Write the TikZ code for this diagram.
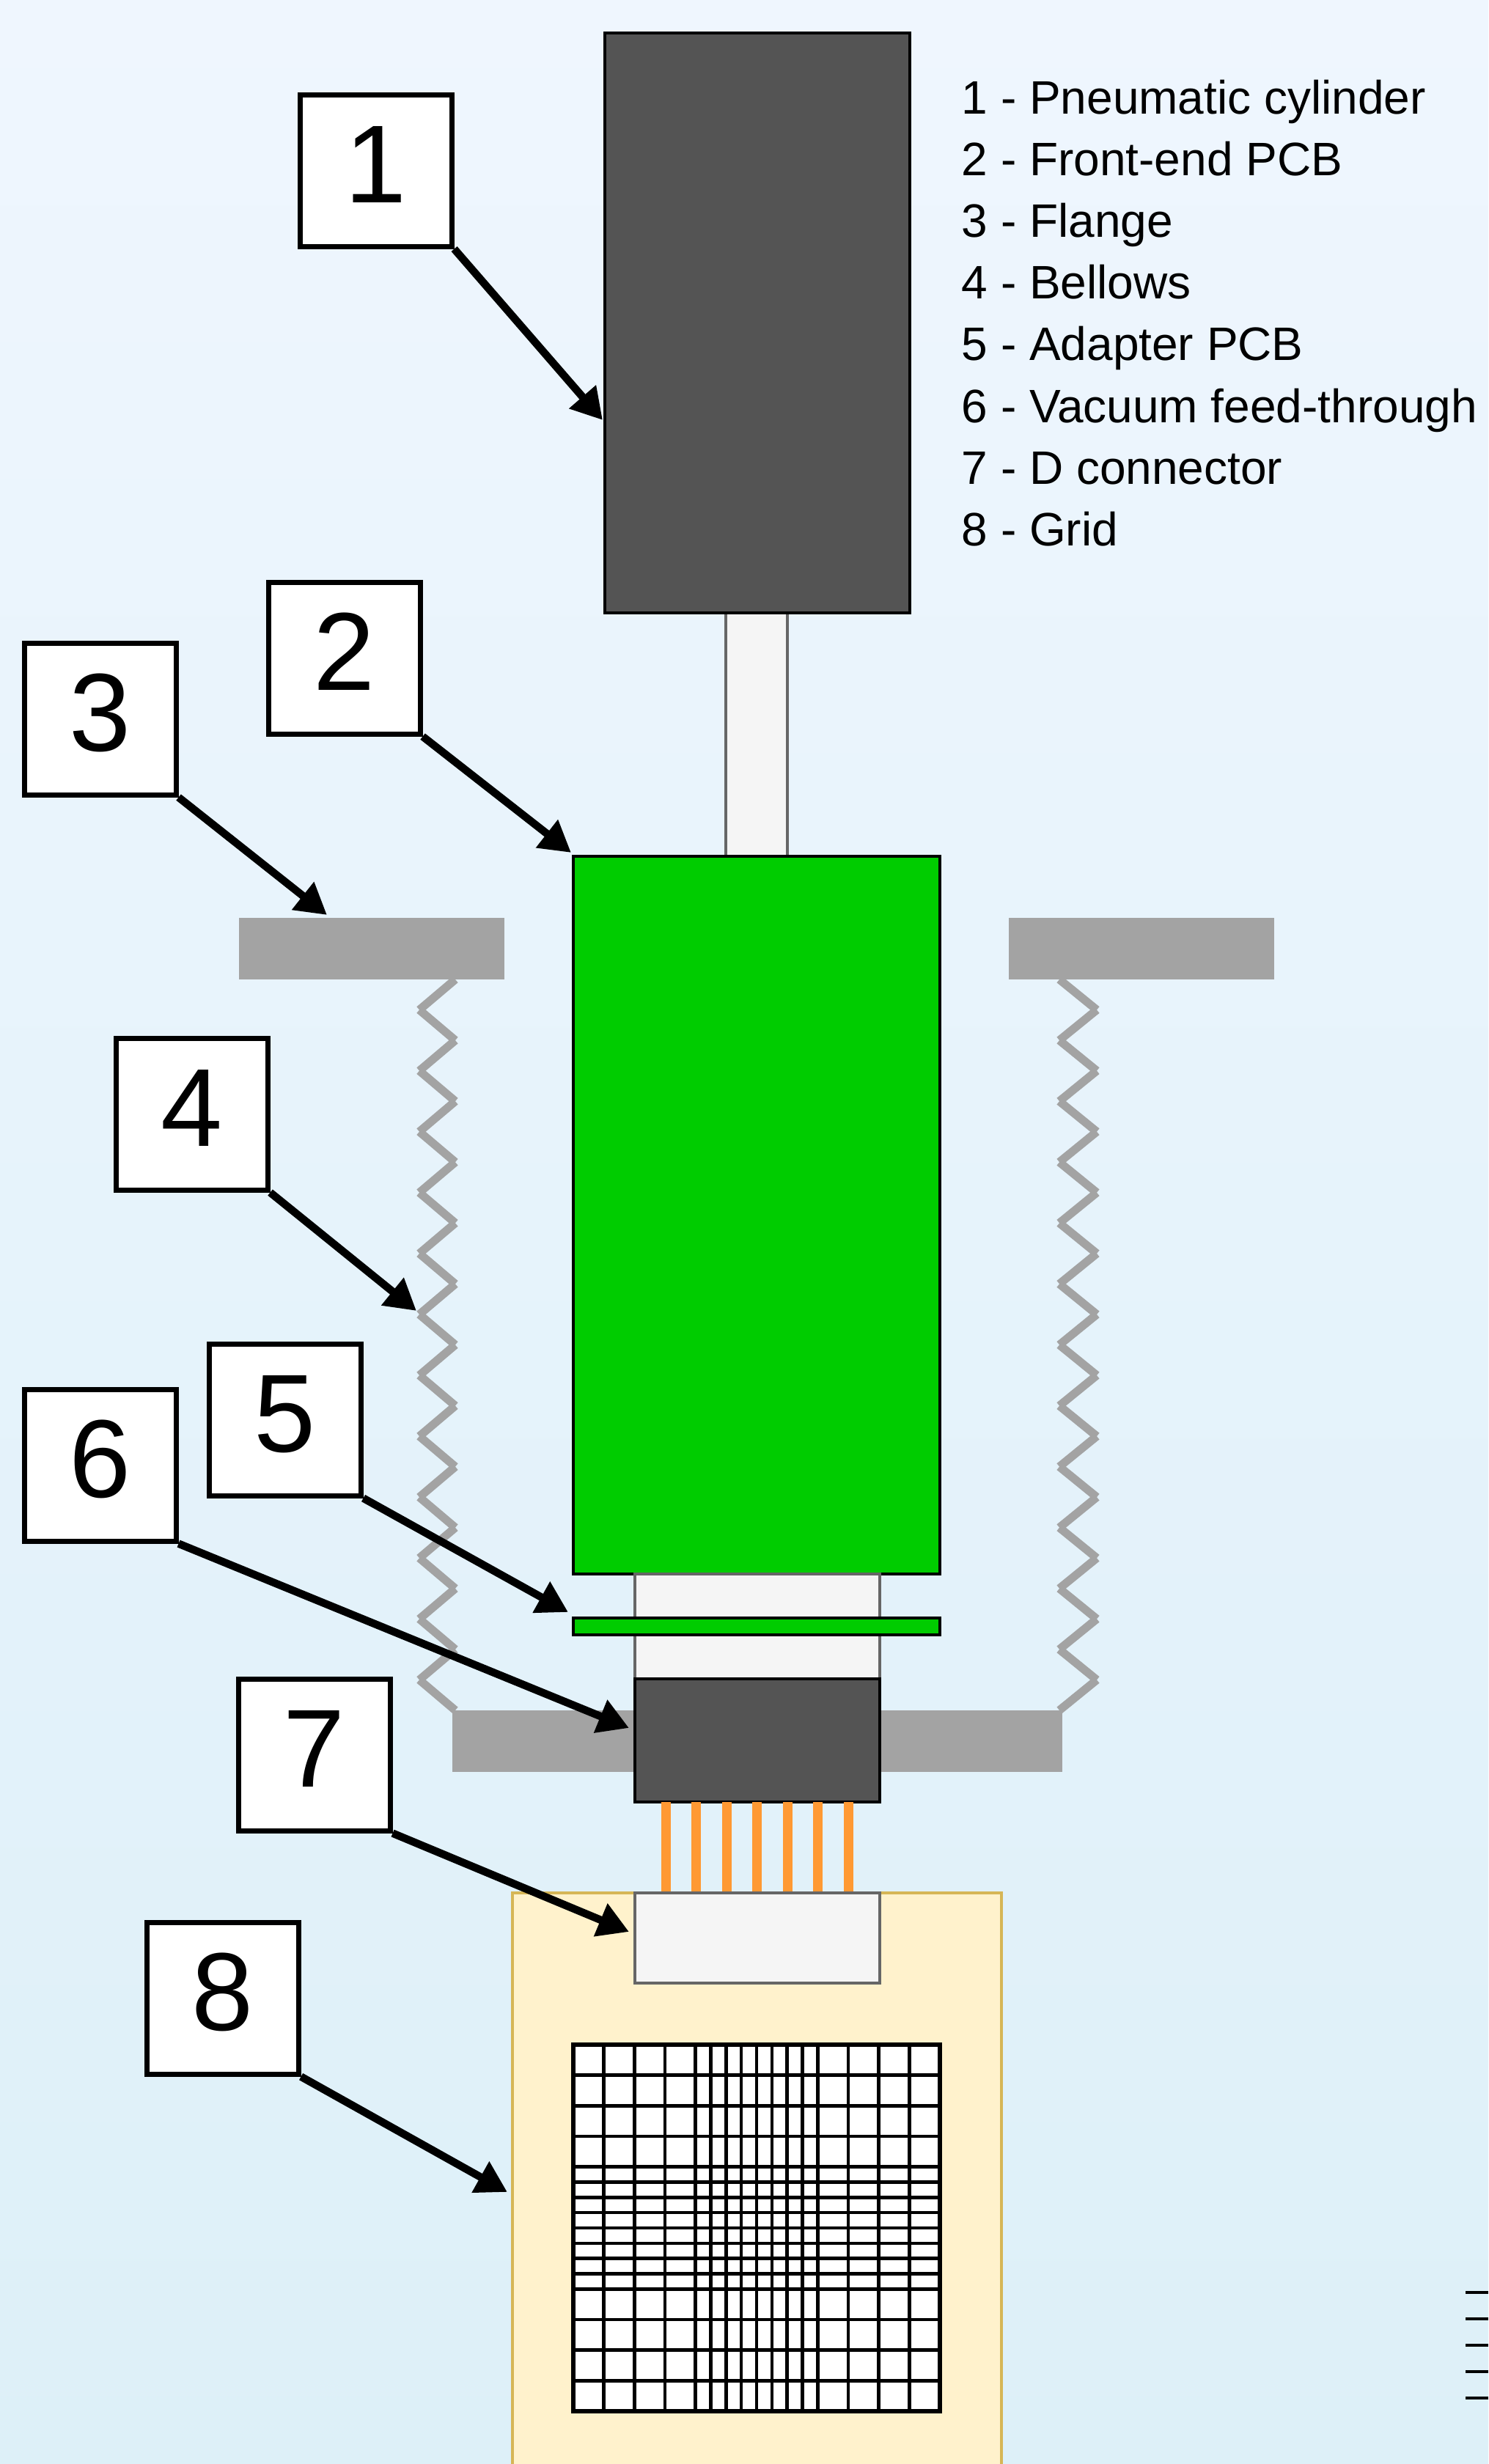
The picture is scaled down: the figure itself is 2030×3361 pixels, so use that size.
\documentclass[tikz,border=0pt]{standalone}
\usepackage{fontspec}
\setmainfont{Liberation Sans}
\usetikzlibrary{arrows.meta}
\definecolor{cyldark}{HTML}{545454}
\definecolor{pcbgreen}{HTML}{00CC00}
\definecolor{flangegray}{HTML}{A3A3A3}
\definecolor{tubelight}{HTML}{F5F5F5}
\definecolor{tubeline}{HTML}{666666}
\definecolor{pinorange}{HTML}{FF9933}
\definecolor{gridpaper}{HTML}{FFF2CC}
\definecolor{gridedge}{HTML}{D6B656}
\definecolor{bgtop}{RGB}{239,246,254}
\definecolor{bgbottom}{RGB}{221,240,248}
\begin{document}
\begin{tikzpicture}[x=0.01cm,y=-0.01cm,
    callout/.style={draw,fill=white,line width=2pt,minimum size=2.06cm,inner sep=0pt,
      font=\fontsize{43}{43}\selectfont,text depth=0.18cm},
    callarrow/.style={line width=3pt,-{Triangle[length=0.42cm,width=0.46cm]}},
    dark/.style={fill=cyldark,draw=black,line width=1pt},
    light/.style={fill=tubelight,draw=tubeline,line width=0.9pt},
    board/.style={fill=pcbgreen,draw=black,line width=0.9pt},
    metal/.style={fill=flangegray},
    bellow/.style={draw=flangegray,line width=3.2pt}]
  \useasboundingbox (0,0) rectangle (2030,3361);
  \shade[top color=bgtop,bottom color=bgbottom] (0,0) rectangle (2030,3361);

  % bellows, one segment at a time
  \foreach \k in {0,...,11} {
    \draw[bellow] (621,1336+83.08*\k) -- (572,1377.5+83.08*\k);
    \draw[bellow] (572,1377.5+83.08*\k) -- (621,1419+83.08*\k);
    \draw[bellow] (1445,1336+83.08*\k) -- (1496,1377.5+83.08*\k);
    \draw[bellow] (1496,1377.5+83.08*\k) -- (1445,1419+83.08*\k);
  }
  \fill[metal] (326,1252) rectangle (688,1336);
  \fill[metal] (1376,1252) rectangle (1738,1336);
  \fill[metal] (617,2333) rectangle (1449,2417);

  \draw[light] (990,836) rectangle (1074,1168);
  \draw[dark] (825,45) rectangle (1241,836);
  \draw[board] (782,1168) rectangle (1282,2147);
  \draw[light] (866,2147) rectangle (1200,2290);
  \draw[board] (782,2207) rectangle (1282,2230);
  \draw[dark] (866,2290) rectangle (1200,2458);

  \draw[fill=gridpaper,draw=gridedge,line width=0.9pt] (699,2582) rectangle (1366,3400);
  \foreach \i in {0,...,6}
    \fill[pinorange] (901.5+41.5*\i,2458) rectangle ++(13,124);
  \draw[light] (866,2582) rectangle (1200,2705);

  \fill[white] (782,2789) rectangle (1282,3289);
  \foreach \d in {0,41.67,83.33,125,166.67,187.5,208.33,229.17,250,270.83,291.67,312.5,333.33,375,416.67,458.33,500} {
    \draw[line width=1.3pt] (782+\d,2789) -- (782+\d,3289);
    \draw[line width=1.3pt] (782,2789+\d) -- (1282,2789+\d);
  }
  \draw[line width=1.6pt] (782,2789) rectangle (1282,3289);

  \foreach \k in {0,...,4}
    \draw[line width=1.2pt] (1999,3127+36*\k) -- (2030,3127+36*\k);

  \foreach \txt [count=\i] in {Pneumatic cylinder,Front-end PCB,Flange,Bellows,Adapter PCB,Vacuum feed-through,D connector,Grid}
    \node[anchor=base west,inner sep=0pt,font=\fontsize{18.2}{22}\selectfont] (key\i) at (1311,71+84.2*\i) {\i{} - \txt};

  \node[callout] (1) at (513,233) {1};
  \node[callout] (2) at (470,898) {2};
  \node[callout] (3) at (137,981) {3};
  \node[callout] (4) at (262,1520) {4};
  \node[callout] (5) at (389,1937) {5};
  \node[callout] (6) at (137,1999) {6};
  \node[callout] (7) at (429,2394) {7};
  \node[callout] (8) at (304,2726) {8};

  \coordinate (t1) at (822,573);
  \coordinate (t2) at (779,1163);
  \coordinate (t3) at (446,1248);
  \coordinate (t4) at (568,1788);
  \coordinate (t5) at (775,2199);
  \coordinate (t6) at (858,2357);
  \coordinate (t7) at (858,2635);
  \coordinate (t8) at (692,2990);

  \begin{scope}[callarrow]
    \draw (1.south east) to (t1);
    \draw (2.south east) to (t2);
    \draw (3.south east) to (t3);
    \draw (4.south east) to (t4);
    \draw (5.south east) to (t5);
    \draw (6.south east) to (t6);
    \draw (7.south east) to (t7);
    \draw (8.south east) to (t8);
  \end{scope}
\end{tikzpicture}
\end{document}
